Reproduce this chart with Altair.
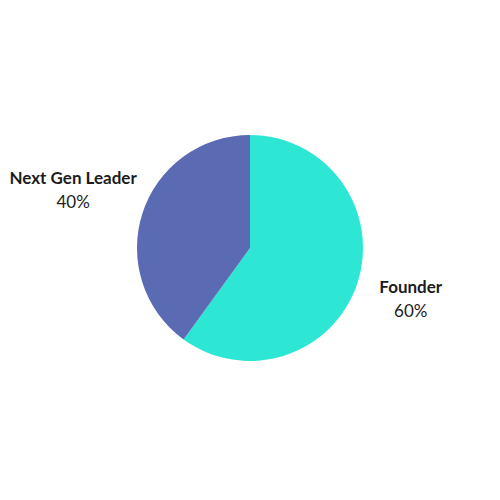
import altair as alt
import pandas as pd

categories = ["Founder", "Next Gen Leader"]
values = [60, 40]
pct_labels = ["60%", "40%"]
colors = ["#2ee6d4", "#5b6bb3"]

df = pd.DataFrame({"category": categories, "value": values, "pct": pct_labels, "order": [0, 1]})

theta_scale = alt.Scale(domain=[0, 100])

base = alt.Chart(df).transform_window(
    cum="sum(value)", sort=[alt.SortField("order")], frame=[None, 0]
).transform_calculate(
    start="datum.cum - datum.value",
    mid="datum.cum - datum.value / 2",
)

pie = base.mark_arc(outerRadius=113).encode(
    theta=alt.Theta("start:Q", scale=theta_scale),
    theta2="cum:Q",
    color=alt.Color("category:N", scale=alt.Scale(domain=categories, range=colors), legend=None),
)

def labels(cat, radius):
    b = base.transform_filter(alt.datum.category == cat).encode(
        theta=alt.Theta("mid:Q", scale=theta_scale)
    )
    name = b.mark_text(radius=radius, dy=-12, font="Lato", fontSize=17, fontWeight="bold", color="#1c1c1c").encode(text="category:N")
    pct = b.mark_text(radius=radius, dy=12, font="Lato", fontSize=17, color="#1c1c1c").encode(text="pct:N")
    return name + pct

chart = alt.layer(pie, labels("Founder", 169), labels("Next Gen Leader", 186)).properties(
    width=484, height=480, padding=0
).configure_view(stroke=None)

chart.save("out.html", embed_options={"renderer": "svg", "actions": False})
